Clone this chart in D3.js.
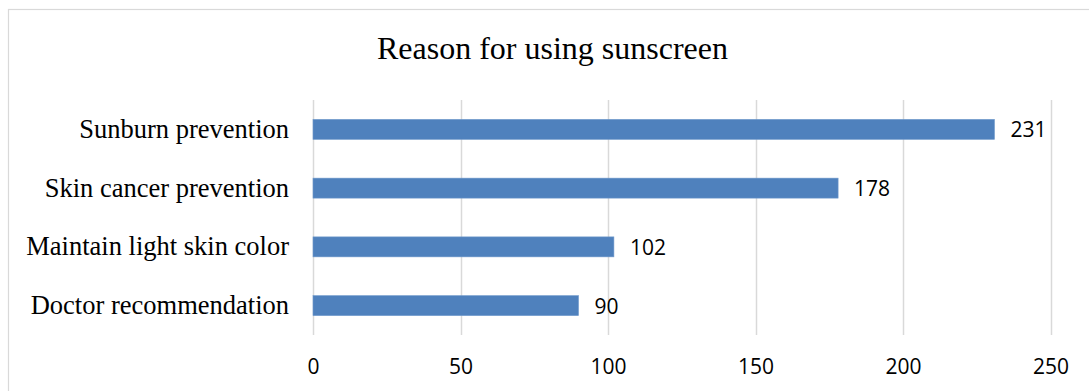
<!DOCTYPE html>
<html><head><meta charset="utf-8">
<script src="https://cdn.jsdelivr.net/npm/d3@7"></script>
<style>html,body{margin:0;padding:0;background:#fff;overflow:hidden}</style>
</head><body>
<script>
const title = "Reason for using sunscreen";
const categories = ["Sunburn prevention","Skin cancer prevention","Maintain light skin color","Doctor recommendation"];
const values = [231,178,102,90];
const tickValues = [0,50,100,150,200,250];

const W = 1089, H = 391;
const svg = d3.select("body").append("svg").attr("width",W).attr("height",H);
svg.append("rect").attr("x",8.5).attr("y",9.5).attr("width",1200).attr("height",500)
  .attr("fill","#fff").attr("stroke","#d9d9d9").attr("stroke-width",1.2);

const x = d3.scaleLinear().domain([0,250]).range([313,1050.5]);
const y = d3.scaleBand().domain(categories).range([100,335]).paddingInner(0.66).paddingOuter(0.33);

svg.append("text").attr("x",552.5).attr("y",59).attr("text-anchor","middle")
  .attr("font-family","'Liberation Serif','Times New Roman',serif").attr("font-size",32)
  .attr("fill","#000").text(title);

// gridlines
svg.append("g").selectAll("line").data(tickValues).join("line")
  .attr("x1",d=>Math.round(x(d))+0.5).attr("x2",d=>Math.round(x(d))+0.5)
  .attr("y1",100).attr("y2",335).attr("stroke","#d9d9d9").attr("stroke-width",1.5);

// x axis labels
const xAxis = d3.axisBottom(x).tickValues(tickValues).tickSize(0).tickPadding(0);
const gx = svg.append("g").attr("transform","translate(0,374)").call(xAxis);
gx.select(".domain").remove();
gx.selectAll("text").attr("dy",0).attr("font-family","'Open Sans',sans-serif").attr("font-size",21).attr("fill","#000");

// bars
svg.append("g").selectAll("rect").data(values).join("rect")
  .attr("x",x(0)).attr("y",(d,i)=>y(categories[i]))
  .attr("width",d=>x(d)-x(0)).attr("height",y.bandwidth())
  .attr("fill","#4f81bd").attr("stroke","#6e98cb").attr("stroke-width",0.6);

// value labels
svg.append("g").selectAll("text").data(values).join("text")
  .attr("x",d=>x(d)+16).attr("y",(d,i)=>y(categories[i])+y.bandwidth()/2+8)
  .attr("font-family","'Open Sans',sans-serif").attr("font-size",21).attr("fill","#000")
  .text(d=>d);

// category labels
const yAxis = d3.axisLeft(y).tickSize(0).tickPadding(24);
const gy = svg.append("g").attr("transform",`translate(${x(0)},0)`).call(yAxis);
gy.select(".domain").remove();
gy.selectAll("text").attr("dy",0).attr("transform","translate(0,8.5)")
  .attr("font-family","'Liberation Serif','Times New Roman',serif").attr("font-size",26.5).attr("fill","#000");
</script>
</body></html>
